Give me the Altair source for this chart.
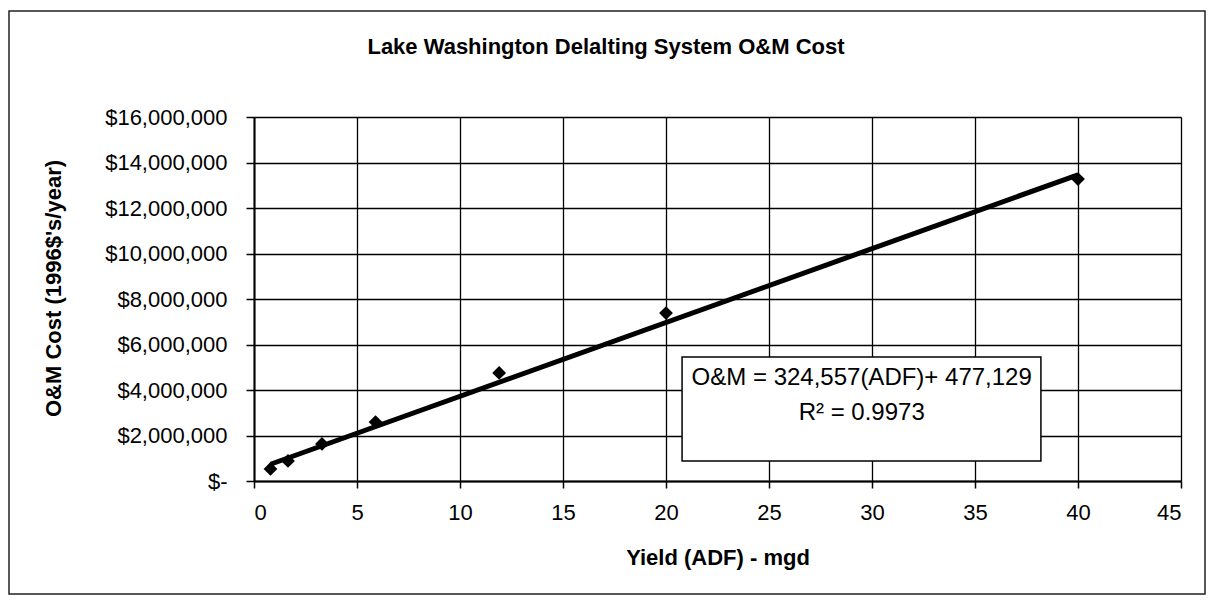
import altair as alt
import pandas as pd

# ---- data ----
yield_mgd = [0.8, 1.65, 3.3, 5.9, 11.9, 20, 40]
om_cost = [530000, 880000, 1630000, 2590000, 4750000, 7380000, 13270000]

slope = 324557
intercept = 477129

title_text = "Lake Washington Delalting System O&M Cost"
x_title = "Yield (ADF) - mgd"
y_title = "O&M Cost (1996$'s/year)"
eq_lines = ["O&M = 324,557(ADF)+ 477,129", "R\u00b2 = 0.9973"]

x_ticks = list(range(0, 46, 5))
y_ticks = list(range(0, 16000001, 2000000))

FONT = "Liberation Sans"

pts = pd.DataFrame({"x": yield_mgd, "y": om_cost})
x_lo, x_hi = min(yield_mgd), max(yield_mgd)
trend = pd.DataFrame({"x": [x_lo, x_hi],
                      "y": [slope * x_lo + intercept, slope * x_hi + intercept]})

xscale = alt.Scale(domain=[0, 45], nice=False, zero=False)
yscale = alt.Scale(domain=[0, 16000000], nice=False)

xaxis = alt.Axis(values=x_ticks, grid=True, gridColor="black", gridWidth=1.3,
                 domainColor="black", domainWidth=2, tickColor="black", tickWidth=1.5,
                 tickSize=7, labelFontSize=22, labelFont=FONT, labelColor="black",
                 labelPadding=14, title=x_title, titleFont=FONT, titleFontSize=22,
                 titleFontWeight="bold", titleColor="black", titleY=76,
                 titleBaseline="middle")
nb = "\u00a0"
yaxis = alt.Axis(values=y_ticks, grid=True, gridColor="black", gridWidth=1.3,
                 domainColor="black", domainWidth=2, tickColor="black", tickWidth=1.5,
                 tickSize=8, labelFontSize=22, labelFont=FONT, labelColor="black",
                 labelPadding=19,
                 labelExpr="datum.value == 0 ? '$-" + nb * 4 + "' : '$' + format(datum.value, ',.0f')",
                 title=y_title, titleFont=FONT, titleFontSize=22, titleFontWeight="bold",
                 titleColor="black", titleX=-201, titleY=171, titleAlign="center",
                 titleBaseline="middle", titleAngle=-90)

frame = alt.Chart(pd.DataFrame({"a": [0]})).mark_rect(
    fill=None, stroke="#222", strokeWidth=1.5).encode(
    x=alt.value(-245), x2=alt.value(951), y=alt.value(-106), y2=alt.value(477))

title = alt.Chart(pd.DataFrame({"t": [title_text]})).mark_text(
    font=FONT, fontSize=22, fontWeight="bold", color="black",
    align="center", baseline="middle").encode(
    x=alt.value(352), y=alt.value(-70), text="t:N")

line = alt.Chart(trend).mark_line(color="black", strokeWidth=5).encode(
    x=alt.X("x:Q", scale=xscale, axis=xaxis),
    y=alt.Y("y:Q", scale=yscale, axis=yaxis))

points = alt.Chart(pts).mark_point(shape="diamond", filled=True, size=190,
                                   color="black", opacity=1).encode(
    x=alt.X("x:Q", scale=xscale), y=alt.Y("y:Q", scale=yscale))

box_df = pd.DataFrame({"x": [20.78], "x2": [38.2], "y": [880000], "y2": [5450000]})
box = alt.Chart(box_df).mark_rect(fill="white", stroke="black", strokeWidth=1.5).encode(
    x=alt.X("x:Q", scale=xscale), x2="x2:Q",
    y=alt.Y("y:Q", scale=yscale), y2="y2:Q")

eq_df = pd.DataFrame({"x": [29.5, 29.5], "y": [4530000, 2990000], "t": eq_lines})
eq = alt.Chart(eq_df).mark_text(font=FONT, fontSize=24, color="black",
                                align="center", baseline="middle").encode(
    x=alt.X("x:Q", scale=xscale), y=alt.Y("y:Q", scale=yscale), text="t:N")

chart = alt.layer(frame, title, line, points, box, eq).properties(
    width=927, height=364,
    padding={"left": 246, "top": 109, "right": 27, "bottom": 114},
    autosize=alt.AutoSizeParams(type="none"),
).configure_view(stroke="black", strokeWidth=1.5).configure(background="white")

chart.save("out.html", embed_options={"renderer": "svg", "actions": False})
